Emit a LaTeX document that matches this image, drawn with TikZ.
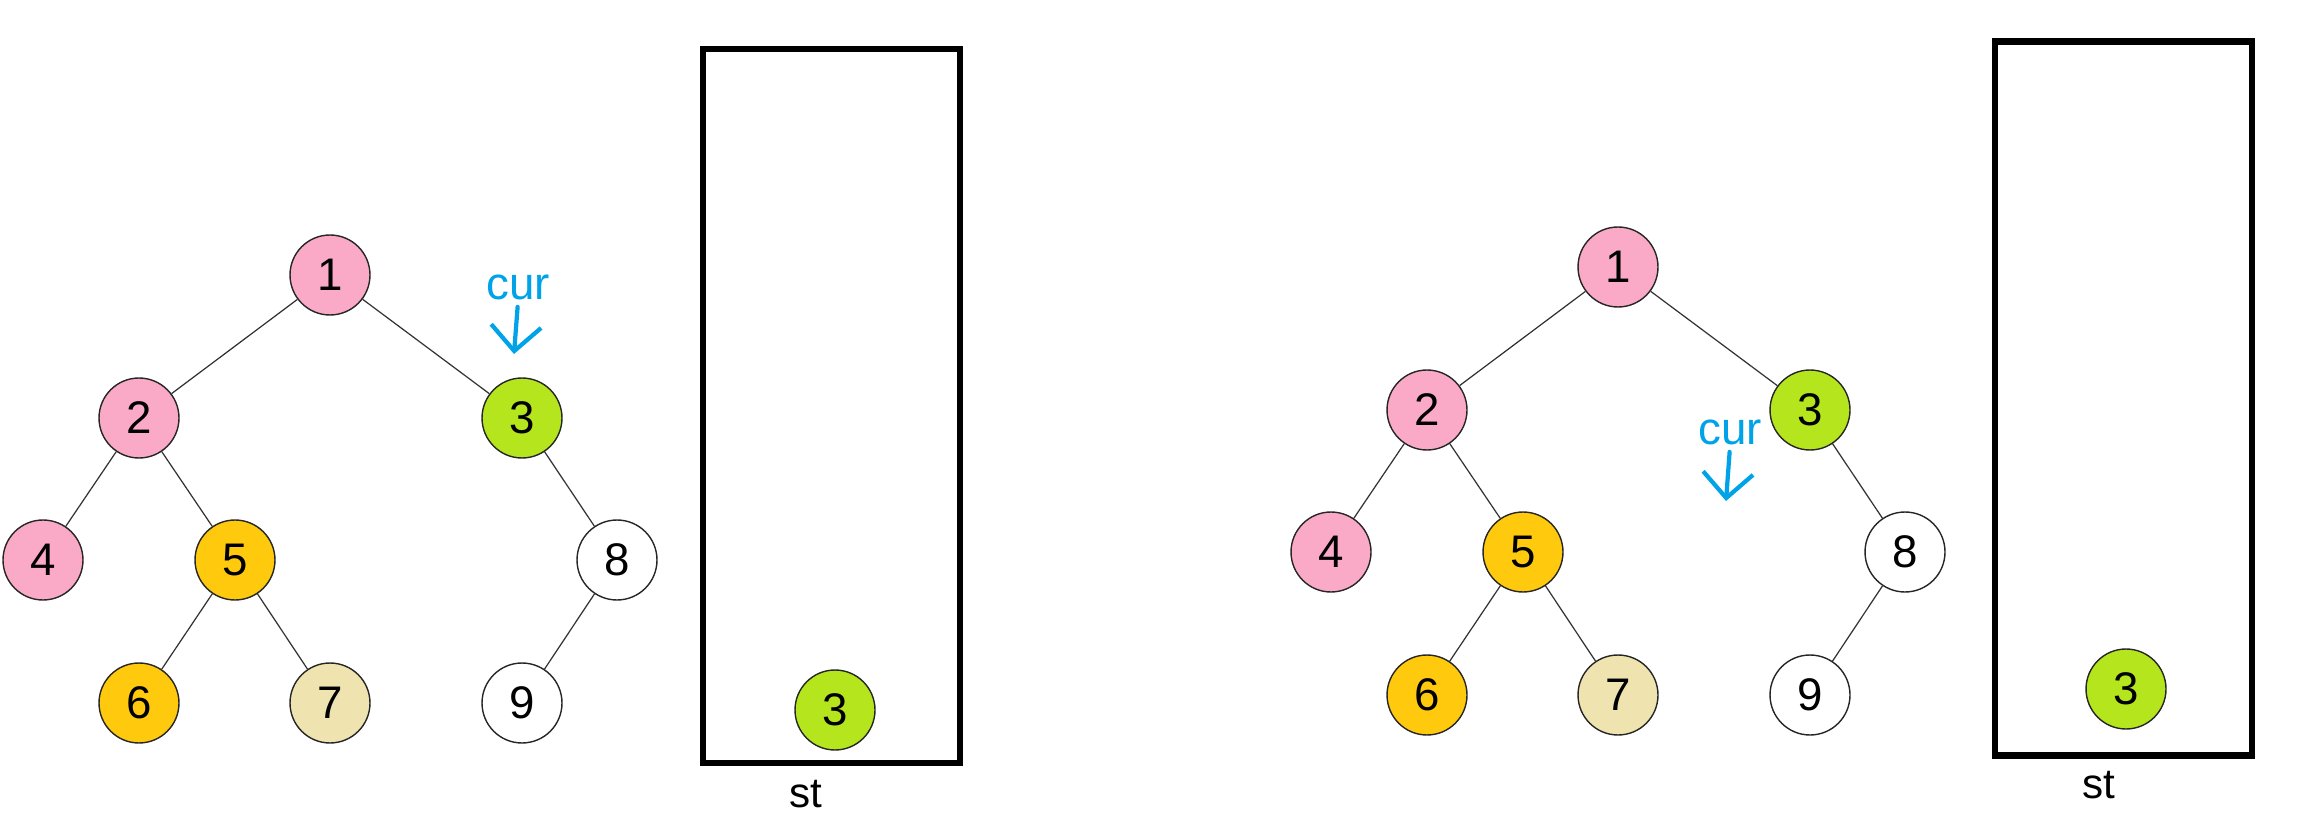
\documentclass[tikz,border=0pt]{standalone}
\usepackage{fontspec}
\setmainfont{Liberation Sans}
\usetikzlibrary{arrows.meta}

\definecolor{pinkc}{RGB}{250,170,198}
\definecolor{limec}{RGB}{181,230,29}
\definecolor{goldc}{RGB}{255,201,14}
\definecolor{beigec}{RGB}{239,228,176}
\definecolor{curblue}{RGB}{0,162,232}

\begin{document}
\begin{tikzpicture}[x=0.02cm, y=-0.02cm,
  vert/.style={circle, draw=black!85, line width=0.8pt, minimum size=1.6cm, inner sep=0pt, font=\fontsize{26}{30}\selectfont},
  edge/.style={draw=black!80, line width=0.7pt},
  stackbox/.style={draw=black, line width=0.13cm, minimum width=5.14cm, minimum height=14.28cm, inner sep=0pt},
  curlabel/.style={text=curblue, inner sep=1pt, font=\fontsize{26}{30}\selectfont},
  curarrow/.style={draw=curblue, line width=2.4pt, line cap=round, shorten <=3pt, -{Straight Barb[length=0.5cm, width=1cm]}}]
  \useasboundingbox (0,0) rectangle (2315,837);

  % the two trees
  \foreach \p/\dx/\dy in {a/0/0, b/1288/-8} {
    \foreach \n/\x/\y/\c in {1/330/275/pinkc, 2/139/418/pinkc, 3/522/418/limec,
        4/43/560/pinkc, 5/235/560/goldc, 8/617/560/white,
        6/139/703/goldc, 7/330/703/beigec, 9/522/703/white}
      \node[vert, fill=\c] (\p\n) at ({\x+\dx},{\y+\dy}) {\n};
    \foreach \u/\v in {1/2, 1/3, 2/4, 2/5, 3/8, 5/6, 5/7, 8/9}
      \draw[edge] (\p\u) -- (\p\v);
  }

  % cur pointers
  \node[curlabel] (cura) at (518,287) {cur};
  \coordinate (tipa) at (514,354);
  \draw[curarrow] (cura.south) -- (tipa);
  \node[curlabel] (curb) at (1730,432) {cur};
  \coordinate (tipb) at (1726,501);
  \draw[curarrow] (curb.south) -- (tipb);

  % stacks
  \node[stackbox] (sta) at (831.5,406) {};
  \node[vert, fill=limec] (sa3) at (835,710) {3};
  \node[font=\fontsize{24}{28}\selectfont] (stla) at (806,794) {st};
  \node[stackbox] (stb) at (2123.5,398.5) {};
  \node[vert, fill=limec] (sb3) at (2126,689) {3};
  \node[font=\fontsize{24}{28}\selectfont] (stlb) at (2099,785) {st};
\end{tikzpicture}
\end{document}
